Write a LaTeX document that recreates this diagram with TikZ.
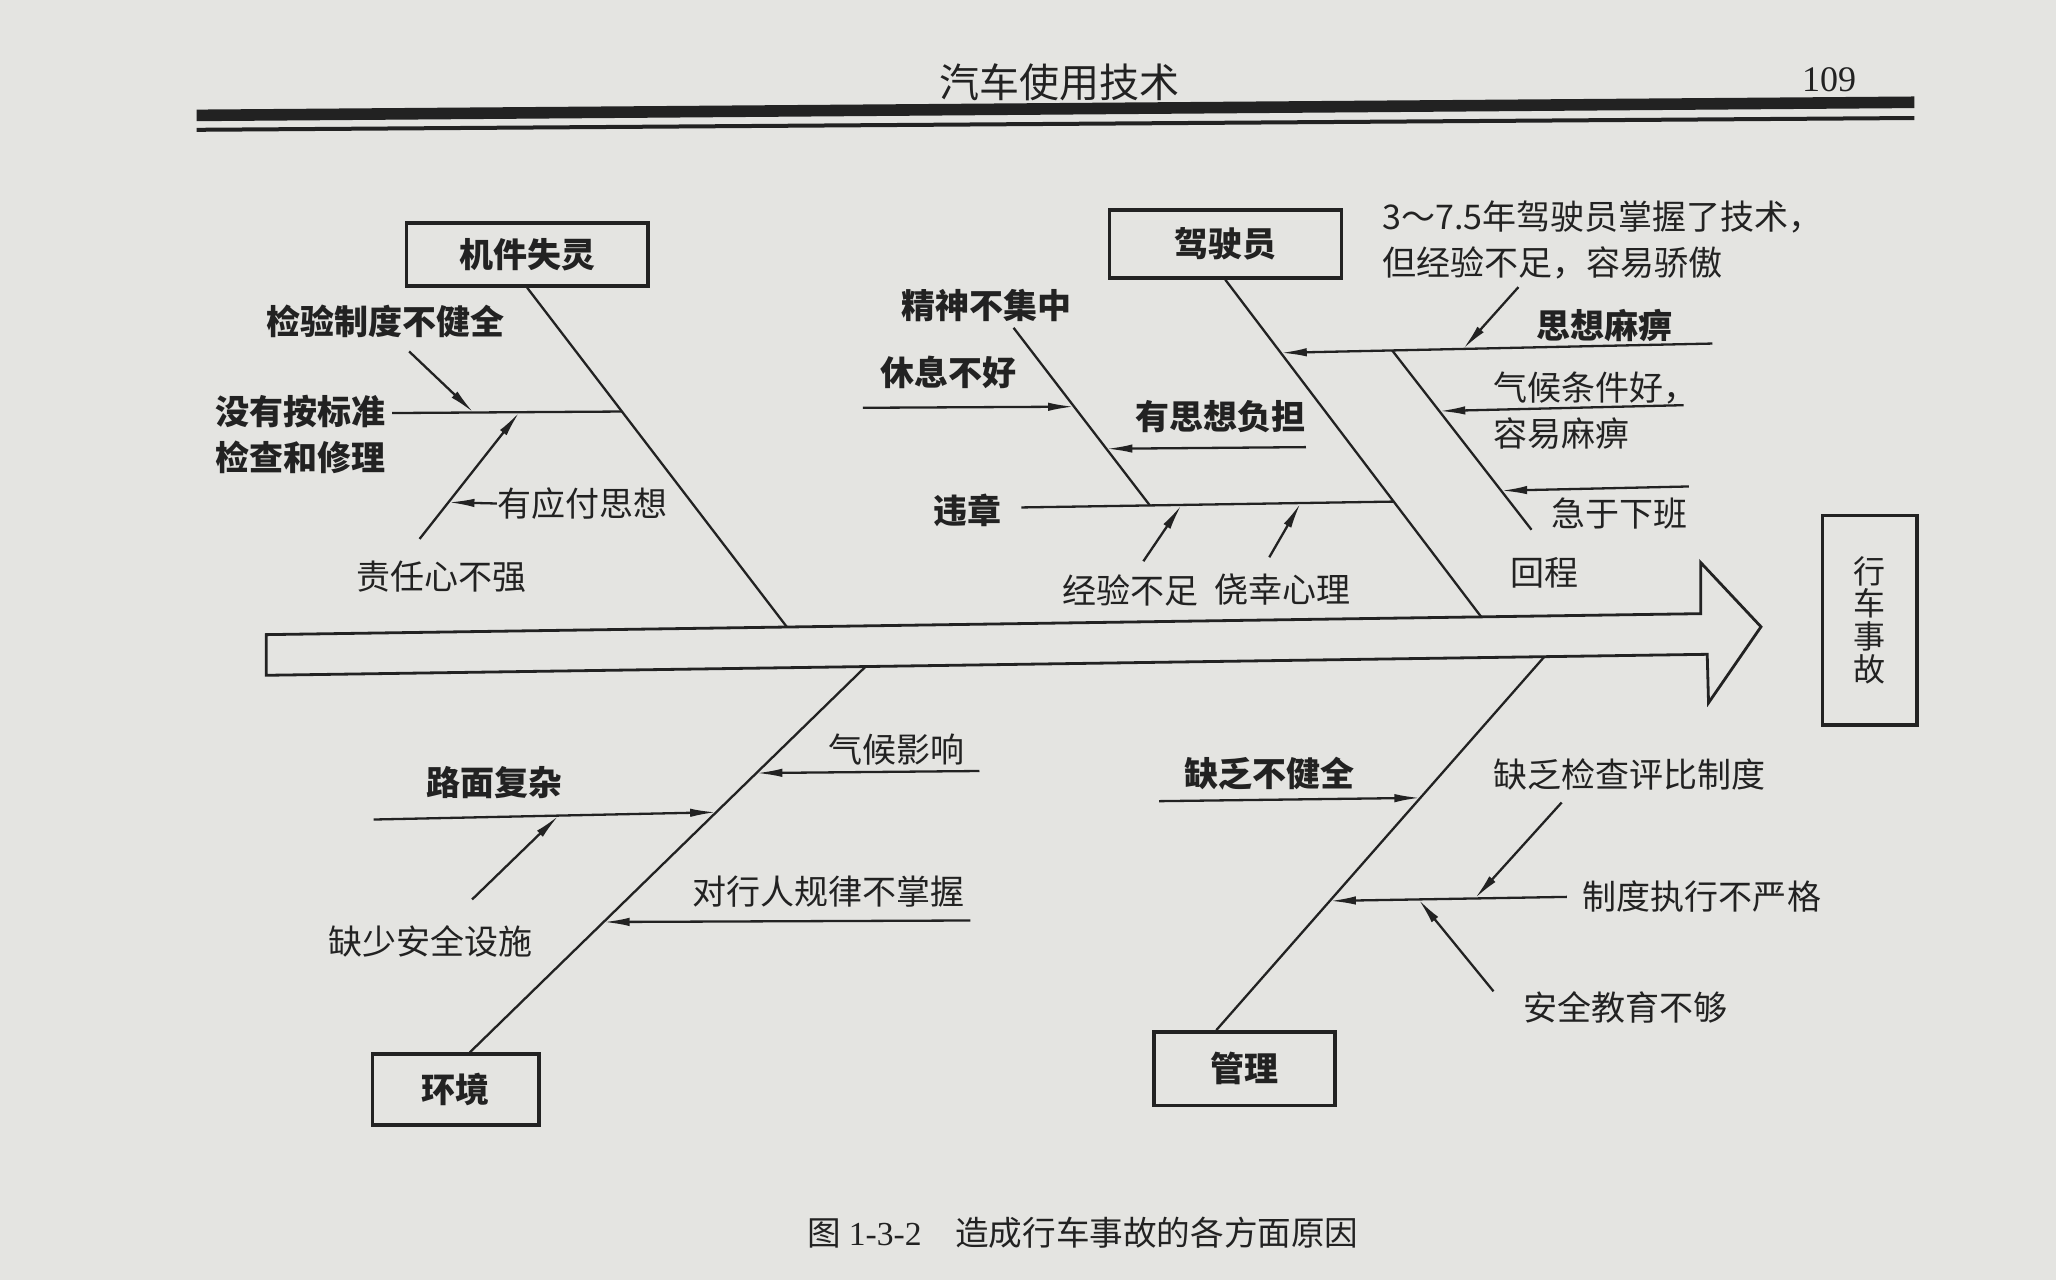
\documentclass[tikz,border=0pt]{standalone}
\usepackage{fontspec}
\setmainfont{Liberation Serif}
\newfontfamily\cjk{Noto Sans CJK SC}
\usetikzlibrary{arrows.meta,calc}
\definecolor{paper}{RGB}{228,228,225}
\definecolor{ink}{RGB}{34,34,34}
\def\pxu{0.6555pt}
\begin{document}
\begin{tikzpicture}[x=0.6555pt,y=-0.6555pt,
  ln/.style={draw=ink,line width=1.15pt},
  arr/.style={draw=ink,line width=1.15pt,-{Latex[length=13pt,width=4.2pt]}},
  bx/.style={draw=ink,line width=1.8pt,rectangle,inner sep=0pt},
  lbl/.style={text=ink,inner sep=0pt,font=\cjk\fontsize{17pt}{23pt}\selectfont},
  lblb/.style={text=ink,inner sep=0pt,font=\cjk\bfseries\fontsize{17pt}{23pt}\selectfont},
]
\fill[paper] (0,0) rectangle (1568,976);
\useasboundingbox (0,0) rectangle (1568,976);

% header
\node[text=ink,inner sep=0pt,font=\cjk\fontsize{20pt}{22pt}\selectfont] (hdr) at (808,63) {汽车使用技术};
\node[text=ink,inner sep=0pt,font=\fontsize{18pt}{20pt}\selectfont] (pg) at (1395,61) {109};
\coordinate (r1a) at (150,88); \coordinate (r1b) at (1460,78);
\draw[ink,line width=5.8pt] (r1a) -- (r1b);
\coordinate (r2a) at (150,99); \coordinate (r2b) at (1460,90);
\draw[ink,line width=2pt] (r2a) -- (r2b);

% spine arrow
\coordinate (A) at (203,484); \coordinate (B) at (1297,468);
\coordinate (C) at (1297,429); \coordinate (D) at (1343,478);
\coordinate (E) at (1303,536); \coordinate (F) at (1302,499);
\coordinate (G) at (203,515);
\draw[ink,line width=1.4pt,line join=miter] (A)--(B)--(C)--(D)--(E)--(F)--(G)--cycle;

% effect box
\node[bx,lbl,align=center,minimum width=72*\pxu,minimum height=160*\pxu,font=\cjk\fontsize{16pt}{16.4pt}\selectfont] (acc) at (1426,473) {行\\车\\事\\故};

% ---------- branch 1: 机件失灵
\node[bx,lblb,minimum width=184*\pxu,minimum height=48*\pxu] (m1) at (402,194) {机件失灵};
\coordinate (s1) at ($(A)!0.363!(B)$);
\draw[ln] (m1.south) -- (s1);
\coordinate (j11) at ($(m1.south)!0.365!(s1)$);
\coordinate (h11) at (299,315);
\draw[ln] (h11) -- (j11);
\coordinate (a11) at (312,268);
\coordinate (k11) at ($(h11)!0.354!(j11)$);
\draw[arr] (a11) -- (k11);
\coordinate (a12) at (320,411);
\coordinate (k12) at ($(h11)!0.554!(j11)$);
\draw[arr] (a12) -- (k12);
\coordinate (k13) at ($(a12)!0.289!(k12)$);
\node[lblb] (t11) at (294,245) {检验制度不健全};
\node[lblb,align=left,anchor=west] (t12) at (164,331) {没有按标准\\检查和修理};
\node[lbl,anchor=west] (t13) at (379,384) {有应付思想};
\draw[arr] (t13.west) -- (k13);
\node[lbl] (t14) at (337,440) {责任心不强};

% ---------- branch 2: 驾驶员
\node[bx,lblb,minimum width=177*\pxu,minimum height=52*\pxu] (m2) at (934.5,186) {驾驶员};
\coordinate (s2) at ($(A)!0.847!(B)$);
\draw[ln] (m2.south) -- (s2);
\coordinate (j21) at ($(m2.south)!0.658!(s2)$);
\coordinate (w21) at (779,387);
\draw[ln] (w21) -- (j21);
\coordinate (d22) at (773,250);
\coordinate (j22) at ($(w21)!0.345!(j21)$);
\draw[ln] (d22) -- (j22);
\coordinate (f23) at (658,311);
\coordinate (k23) at ($(d22)!0.444!(j22)$);
\draw[arr] (f23) -- (k23);
\coordinate (f24) at (996,341);
\coordinate (k24) at ($(d22)!0.681!(j22)$);
\draw[arr] (f24) -- (k24);
\coordinate (f25) at (872,428);
\coordinate (k25) at ($(w21)!0.43!(j21)$);
\draw[arr] (f25) -- (k25);
\coordinate (f26) at (968,425);
\coordinate (k26) at ($(w21)!0.75!(j21)$);
\draw[arr] (f26) -- (k26);
\coordinate (j27) at ($(m2.south)!0.2167!(s2)$);
\coordinate (h27) at (1306,262);
\draw[arr] (h27) -- (j27);
\coordinate (f28) at (1158,219);
\coordinate (k28) at ($(j27)!0.4225!(h27)$);
\draw[arr] (f28) -- (k28);
\coordinate (j29) at ($(j27)!0.258!(h27)$);
\coordinate (r29) at (1168,404);
\draw[ln] (j29) -- (r29);
\coordinate (f30) at (1284,309);
\coordinate (k30) at ($(j29)!0.338!(r29)$);
\draw[arr] (f30) -- (k30);
\coordinate (f31) at (1288,371);
\coordinate (k31) at ($(j29)!0.782!(r29)$);
\draw[arr] (f31) -- (k31);

\node[lblb] (t21) at (752,233) {精神不集中};
\node[lblb] (t22) at (723,284) {休息不好};
\node[lblb] (t23) at (931,318) {有思想负担};
\node[lblb] (t24) at (738,389) {违章};
\node[lbl] (t25) at (862,450) {经验不足};
\node[lbl] (t26) at (978,450) {侥幸心理};
\node[lbl,align=left,anchor=west] (t27) at (1054,183) {3～7.5年驾驶员掌握了技术，\\但经验不足，容易骄傲};
\node[lblb] (t28) at (1224,248) {思想麻痹};
\node[lbl,align=left,anchor=west] (t29) at (1139,313) {气候条件好，\\容易麻痹};
\node[lbl] (t30) at (1235,392) {急于下班};
\node[lbl] (t31) at (1178,437) {回程};

% ---------- branch 3: 环境
\node[bx,lblb,minimum width=127*\pxu,minimum height=54*\pxu] (m3) at (347.5,831) {环境};
\coordinate (s3) at ($(G)!0.416!(F)$);
\coordinate (e3) at ($(m3.north west)!0.583!(m3.north east)$);
\draw[ln] (s3) -- (e3);
\coordinate (j31) at ($(s3)!0.276!(e3)$);
\coordinate (j32) at ($(s3)!0.3776!(e3)$);
\coordinate (j33) at ($(s3)!0.662!(e3)$);
\coordinate (f31b) at (747,588);
\draw[arr] (f31b) -- (j31);
\coordinate (h32) at (285,625);
\draw[arr] (h32) -- (j32);
\coordinate (f33) at (360,686);
\coordinate (k33) at ($(h32)!0.54!(j32)$);
\draw[arr] (f33) -- (k33);
\coordinate (f34) at (740,702);
\draw[arr] (f34) -- (j33);
\node[lbl] (t32) at (684,572) {气候影响};
\node[lblb] (t33) at (377,597) {路面复杂};
\node[lbl] (t34) at (328,718) {缺少安全设施};
\node[lbl] (t35) at (632,680) {对行人规律不掌握};

% ---------- branch 4: 管理
\node[bx,lblb,minimum width=138*\pxu,minimum height=56*\pxu] (m4) at (949,815) {管理};
\coordinate (s4) at ($(G)!0.887!(F)$);
\coordinate (e4) at ($(m4.north west)!0.348!(m4.north east)$);
\draw[ln] (s4) -- (e4);
\coordinate (j41) at ($(s4)!0.378!(e4)$);
\coordinate (j42) at ($(s4)!0.654!(e4)$);
\coordinate (f41) at (884,611);
\draw[arr] (f41) -- (j41);
\coordinate (h42) at (1195,684);
\draw[arr] (h42) -- (j42);
\coordinate (f43) at (1191,612);
\coordinate (k43) at ($(j42)!0.612!(h42)$);
\draw[arr] (f43) -- (k43);
\coordinate (f44) at (1139,756);
\coordinate (k44) at ($(j42)!0.374!(h42)$);
\draw[arr] (f44) -- (k44);
\node[lblb] (t41) at (968,590) {缺乏不健全};
\node[lbl] (t42) at (1243,591) {缺乏检查评比制度};
\node[lbl] (t43) at (1298,684) {制度执行不严格};
\node[lbl] (t44) at (1240,768) {安全教育不够};

% caption
\node[text=ink,inner sep=0pt,font=\cjk\fontsize{16.8pt}{20pt}\selectfont] (cap) at (826,940) {图 {\rmfamily 1-3-2}\quad 造成行车事故的各方面原因};
\end{tikzpicture}
\end{document}
